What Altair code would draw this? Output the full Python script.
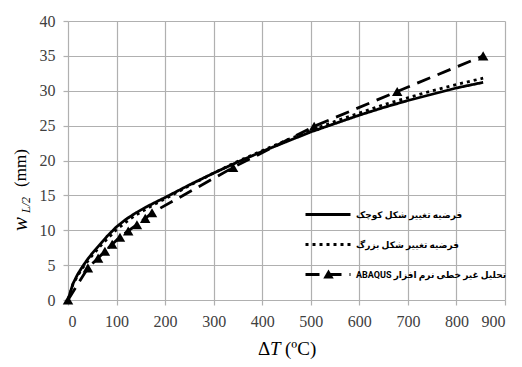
import altair as alt
import pandas as pd

# ---- data ----
small_x = [0, 10, 20, 30, 40, 50, 60, 70, 80, 90, 100, 120, 140, 160, 180, 200, 250, 300,
           350, 400, 450, 500, 550, 600, 650, 700, 750, 800, 855]
small_y = [0, 2.3, 3.7, 4.8, 5.8, 6.7, 7.5, 8.3, 9.1, 9.8, 10.5, 11.6, 12.5, 13.3, 14.0, 14.7,
           16.5, 18.2, 19.8, 21.3, 22.7, 24.1, 25.3, 26.5, 27.6, 28.6, 29.5, 30.4, 31.2]

large_x = [0, 10, 20, 30, 40, 50, 60, 70, 80, 90, 100, 120, 140, 160, 180, 200, 250, 300,
           350, 400, 450, 500, 550, 600, 650, 700, 750, 800, 855]
large_y = [0, 2.2, 3.5, 4.6, 5.5, 6.4, 7.2, 8.0, 8.7, 9.4, 10.1, 11.2, 12.2, 13.0, 13.8, 14.5,
           16.4, 18.2, 19.9, 21.4, 22.9, 24.3, 25.6, 26.8, 28.0, 29.0, 30.0, 30.9, 31.8]

abaqus_x = [0, 41, 62, 76, 91, 107, 124, 142, 159, 173, 340, 507, 678, 855]
abaqus_y = [0, 4.6, 6.0, 7.0, 8.0, 9.0, 9.9, 10.8, 11.7, 12.5, 19.0, 24.9, 29.9, 35.0]

# third label wrapped in a right-to-left embedding so "ABAQUS" sits at the left
names = ["فرضیه تغییر شکل کوچک", "فرضیه تغییر شکل بزرگ",
         "\u202bتحلیل غیر خطی نرم افزار ABAQUS\u202c"]
x_ticks = [0, 100, 200, 300, 400, 500, 600, 700, 800, 900]
y_ticks = [0, 5, 10, 15, 20, 25, 30, 35, 40]

rows = []
for n, xs, ys in zip(names, [small_x, large_x, abaqus_x], [small_y, large_y, abaqus_y]):
    for xv, yv in zip(xs, ys):
        rows.append({"series": n, "dT": xv, "w": yv})
df = pd.DataFrame(rows)
df_pts = pd.DataFrame({"series": [names[2]] * len(abaqus_x), "dT": abaqus_x, "w": abaqus_y})

xscale = alt.Scale(domain=[0, 900], nice=False)
yscale = alt.Scale(domain=[0, 40], nice=False)
xaxis = alt.Axis(values=x_ticks, title=None, labelPadding=8)
yaxis = alt.Axis(values=y_ticks, title=None, labelPadding=8)

lines = alt.Chart(df).mark_line(color="black", strokeWidth=2.8).encode(
    x=alt.X("dT:Q", scale=xscale, axis=xaxis),
    y=alt.Y("w:Q", scale=yscale, axis=yaxis),
    strokeDash=alt.StrokeDash(
        "series:N",
        scale=alt.Scale(domain=names, range=[[1, 0], [3, 4], [14, 8]]),
        legend=alt.Legend(
            orient="none", legendX=236, legendY=169.5, title=None,
            symbolType="stroke", symbolSize=2025, symbolStrokeWidth=3,
            symbolStrokeColor="black",
            labelFont="Roboto, DejaVu Sans", labelFontSize=9,
            labelFontWeight="bold", labelColor="black", rowPadding=-11,
            labelOffset=4, labelLimit=300,
        ),
    ),
)

points = alt.Chart(df_pts).mark_point(filled=True, color="black", size=110, opacity=1).encode(
    x=alt.X("dT:Q", scale=xscale, axis=xaxis),
    y=alt.Y("w:Q", scale=yscale, axis=yaxis),
    shape=alt.Shape(
        "series:N",
        scale=alt.Scale(domain=[names[2]], range=["triangle-up"]),
        legend=alt.Legend(
            orient="none", legendX=255, legendY=247.5, title=None,
            symbolSize=110, symbolFillColor="black", symbolStrokeWidth=0,
            labelExpr="''",
        ),
    ),
)

serif = "Liberation Serif"
t_w = alt.Chart().mark_text(text="w", font=serif, fontStyle="italic", fontSize=21,
                            angle=270, align="center", baseline="middle").encode(
    x=alt.value(-47), y=alt.value(203))
t_sub = alt.Chart().mark_text(text="L/2", font=serif, fontStyle="italic", fontSize=12,
                              angle=270, align="center", baseline="middle").encode(
    x=alt.value(-42), y=alt.value(184))
t_mm = alt.Chart().mark_text(text="(mm)", font=serif, fontSize=17,
                             angle=270, align="center", baseline="middle").encode(
    x=alt.value(-47), y=alt.value(147))

t_d = alt.Chart().mark_text(text="Δ", font=serif, fontSize=19, align="left",
                            baseline="middle").encode(x=alt.value(190), y=alt.value(328))
t_t = alt.Chart().mark_text(text="T", font=serif, fontStyle="italic", fontSize=19,
                            align="left", baseline="middle").encode(x=alt.value(202), y=alt.value(328))
t_c = alt.Chart().mark_text(text="(ºC)", font=serif, fontSize=19, align="left",
                            baseline="middle").encode(x=alt.value(217), y=alt.value(328))

chart = alt.layer(lines, points, t_w, t_sub, t_mm, t_d, t_t, t_c).resolve_legend(
    strokeDash="independent", shape="independent"
).properties(
    width=437, height=279,
    autosize=alt.AutoSizeParams(type="none"),
    padding={"left": 60, "top": 13, "right": 8, "bottom": 64},
    background="white",
).configure_view(stroke=None).configure_axis(
    grid=True, gridColor="#b0b0b0", gridWidth=1.2, domain=False,
    tickColor="#b0b0b0", tickSize=5, tickWidth=1.2,
    labelFont="Liberation Sans Narrow", labelFontSize=16, labelColor="#404040",
)

chart.save("out.html", embed_options={"renderer": "svg", "actions": False})
